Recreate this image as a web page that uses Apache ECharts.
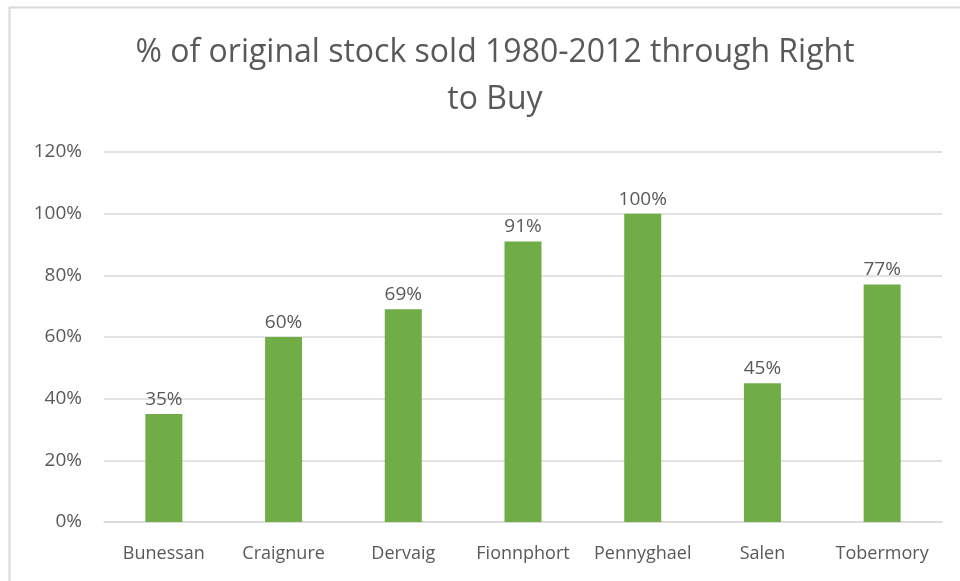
<!DOCTYPE html>
<html>
<head>
<meta charset="utf-8">
<script src="https://cdn.jsdelivr.net/npm/echarts@6/dist/echarts.min.js"></script>
<style>
  html, body { margin: 0; padding: 0; background: #fff; }
  #main { width: 960px; height: 581px; }
</style>
</head>
<body>
<div id="main"></div>
<script>
var villages = ['Bunessan', 'Craignure', 'Dervaig', 'Fionnphort', 'Pennyghael', 'Salen', 'Tobermory'];
var pctSold = [35, 60, 69, 91, 100, 45, 77];

var chart = echarts.init(document.getElementById('main'));
var font = '"Open Sans", "Noto Sans", sans-serif';

chart.setOption({
  animation: false,
  graphic: [{
    type: 'rect',
    shape: { x: 9.5, y: 7.5, width: 960, height: 600 },
    style: { fill: 'none', stroke: '#d9d9d9', lineWidth: 2 },
    silent: true
  }],
  title: {
    text: '% of original stock sold 1980-2012 through Right\nto Buy',
    left: 490,
    textAlign: 'center',
    top: 24,
    textStyle: {
      fontFamily: font,
      fontSize: 32,
      fontWeight: 'normal',
      color: '#595959',
      lineHeight: 47
    }
  },
  grid: { left: 104, right: 18, top: 152, bottom: 59 },
  xAxis: {
    type: 'category',
    data: villages,
    axisLine: { lineStyle: { color: '#d9d9d9', width: 1.5 } },
    axisTick: { show: false },
    axisLabel: {
      color: '#595959', fontSize: 18, fontFamily: font, margin: 23,
      interval: 0, hideOverlap: false
    }
  },
  yAxis: {
    type: 'value',
    min: 0,
    max: 120,
    interval: 20,
    axisLine: { show: false },
    axisTick: { show: false },
    splitLine: { lineStyle: { color: '#d9d9d9', width: 1.5 } },
    axisLabel: {
      color: '#595959', fontSize: 19, fontFamily: font, margin: 22,
      formatter: '{value}%'
    }
  },
  series: [{
    type: 'bar',
    data: pctSold,
    barWidth: 37,
    itemStyle: { color: '#70ad47' },
    label: {
      show: true,
      position: 'top',
      distance: 5,
      formatter: '{c}%',
      color: '#595959',
      fontSize: 19,
      fontFamily: font
    }
  }]
});
</script>
</body>
</html>
